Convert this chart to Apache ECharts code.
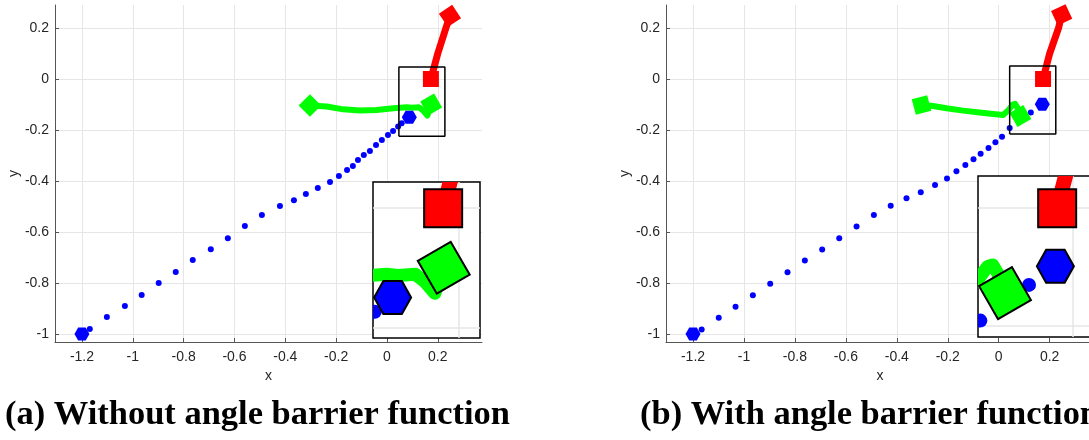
<!DOCTYPE html>
<html>
<head>
<meta charset="utf-8">
<title>Angle barrier function comparison</title>
<script src="https://cdn.jsdelivr.net/npm/echarts@6.0.0/dist/echarts.min.js"></script>
<style>
  html, body { margin: 0; padding: 0; background: #fff; }
  #chart { width: 1089px; height: 440px; }
</style>
</head>
<body>
<div id="chart"></div>
<script>
// axes (same for both panels)
const xRange = [-1.306, 0.374];
const yRange = [-1.031, 0.29];
const xTicks = [-1.2, -1, -0.8, -0.6, -0.4, -0.2, 0, 0.2];
const yTicks = [-1, -0.8, -0.6, -0.4, -0.2, 0, 0.2];

// (a) without angle barrier function
const blueA = [[-1.169,-0.980],[-1.102,-0.933],[-1.031,-0.890],[-0.965,-0.847],[-0.898,-0.800],
  [-0.831,-0.757],[-0.764,-0.710],[-0.693,-0.667],[-0.626,-0.624],[-0.559,-0.576],[-0.492,-0.533],
  [-0.421,-0.498],[-0.366,-0.475],[-0.319,-0.451],[-0.272,-0.427],[-0.224,-0.404],[-0.189,-0.380],
  [-0.157,-0.357],[-0.134,-0.341],[-0.114,-0.318],[-0.091,-0.298],[-0.067,-0.282],[-0.043,-0.259],
  [-0.020,-0.239],[0.004,-0.220],[0.024,-0.204],[0.044,-0.186],[0.058,-0.174]];
const greenA = [[-0.303,-0.104],[-0.237,-0.108],[-0.172,-0.119],[-0.106,-0.124],[-0.041,-0.122],
  [0.025,-0.115],[0.078,-0.111],[0.097,-0.113],[0.126,-0.111],[0.142,-0.123],[0.159,-0.143],[0.174,-0.100]];
const redA = [[0.173,0],[0.200,0.100],[0.232,0.200],[0.248,0.247]];
// poses: [x, y, heading deg] for start and end
const redPoseA = [[0.173,0,0],[0.248,0.247,34]];
const greenPoseA = [[-0.303,-0.104,45],[0.174,-0.100,30]];
const bluePoseA = [[-1.2,-1.0,0],[0.088,-0.150,0]];
const boxA = [0.047, 0.228, -0.224, 0.047];      // x0, x1, y0, y1
const insetXA = [0.055, 0.235];
const insetYA = [-0.218, 0.044];

// (b) with angle barrier function
const blueB = [[-1.166,-0.982],[-1.099,-0.936],[-1.033,-0.893],[-0.965,-0.848],[-0.897,-0.803],
  [-0.829,-0.758],[-0.761,-0.712],[-0.693,-0.668],[-0.626,-0.624],[-0.558,-0.578],[-0.490,-0.533],
  [-0.424,-0.497],[-0.362,-0.468],[-0.306,-0.444],[-0.250,-0.416],[-0.203,-0.390],[-0.166,-0.362],
  [-0.131,-0.337],[-0.099,-0.315],[-0.071,-0.293],[-0.040,-0.271],[-0.013,-0.248],[0.013,-0.226],
  [0.043,-0.192],[0.126,-0.131]];
const greenB = [[-0.303,-0.102],[-0.258,-0.106],[-0.205,-0.115],[-0.140,-0.124],[-0.075,-0.131],
  [-0.022,-0.137],[0.017,-0.141],[0.039,-0.122],[0.055,-0.100],[0.064,-0.097],[0.072,-0.110],[0.085,-0.145]];
const redB = [[0.174,0],[0.200,0.100],[0.235,0.200],[0.247,0.251]];
const redPoseB = [[0.174,0,0],[0.247,0.251,25]];
const greenPoseB = [[-0.303,-0.102,15],[0.085,-0.145,30]];
const bluePoseB = [[-1.2,-1.0,0],[0.171,-0.099,0]];
const boxB = [0.043, 0.224, -0.216, 0.051];
const insetXB = [0.039, 0.230];
const insetYB = [-0.220, 0.055];

const captionA = '(a) Without angle barrier function';
const captionB = '(b) With angle barrier function';

const FONT = '"Liberation Sans", Arial, sans-serif';
const TXT = '#262626';
const HEX = 'path://M0,50L25,7L75,7L100,50L75,93L25,93Z';
const BLUE = '#0000ff', GREEN = '#00ff00', RED = '#ff0000';

const mainStyle = { dot: 6, green: 6, red: 7, square: 16, hex: [15, 13] };
const insetStyle = { dot: 14, green: 13, red: 15, square: 38, hex: [37, 33], border: 2 };

function mainX(gi) {
  return {
    gridIndex: gi, type: 'value', min: xRange[0], max: xRange[1],
    name: 'x', nameLocation: 'middle', nameGap: 27,
    nameTextStyle: { color: TXT, fontSize: 14, fontFamily: FONT },
    axisLine: { show: true, onZero: false, lineStyle: { color: '#555', width: 1 } },
    axisTick: { show: true, inside: true, length: 4, customValues: xTicks, lineStyle: { color: '#555' } },
    axisLabel: { customValues: xTicks, color: TXT, fontSize: 14, fontFamily: FONT, margin: 8,
      formatter: v => String(+v.toFixed(2)) },
    splitLine: { show: true, lineStyle: { color: '#e6e6e6', width: 1 } }
  };
}
function mainY(gi) {
  return {
    gridIndex: gi, type: 'value', min: yRange[0], max: yRange[1],
    name: 'y', nameLocation: 'middle', nameGap: 34,
    nameTextStyle: { color: TXT, fontSize: 14, fontFamily: FONT },
    axisLine: { show: true, onZero: false, lineStyle: { color: '#555', width: 1 } },
    axisTick: { show: true, inside: true, length: 4, customValues: yTicks, lineStyle: { color: '#555' } },
    axisLabel: { customValues: yTicks, color: TXT, fontSize: 14, fontFamily: FONT, margin: 6,
      formatter: v => String(+v.toFixed(2)) },
    splitLine: { show: true, lineStyle: { color: '#e6e6e6', width: 1 } }
  };
}
function insetAxis(gi, range, ticks) {
  return {
    gridIndex: gi, type: 'value', min: range[0], max: range[1], z: 4,
    axisLine: { show: false }, axisLabel: { show: false },
    axisTick: { show: false, customValues: ticks },
    splitLine: { show: true, lineStyle: { color: '#e6e6e6', width: 1.5 } }
  };
}

// main panels: ordinary series
function mainSeries(ai, blue, green, red, redPose, greenPose, bluePose, st) {
  const base = { xAxisIndex: ai, yAxisIndex: ai, z: 2, silent: true };
  const poses = [];
  bluePose.forEach(p => poses.push({ value: [p[0], p[1]], symbol: HEX, symbolSize: st.hex,
    itemStyle: { color: BLUE, opacity: 1 } }));
  redPose.forEach(p => poses.push({ value: [p[0], p[1]], symbol: 'rect', symbolSize: st.square,
    symbolRotate: p[2], itemStyle: { color: RED, opacity: 1 } }));
  greenPose.forEach(p => poses.push({ value: [p[0], p[1]], symbol: 'rect', symbolSize: st.square,
    symbolRotate: p[2], itemStyle: { color: GREEN, opacity: 1 } }));
  return [
    Object.assign({ type: 'scatter', data: blue, symbol: 'circle', symbolSize: st.dot,
      itemStyle: { color: BLUE, opacity: 1 } }, base),
    Object.assign({ type: 'line', data: green, symbol: 'none',
      lineStyle: { color: GREEN, width: st.green, cap: 'round', join: 'round' } }, base),
    Object.assign({ type: 'line', data: red, symbol: 'none',
      lineStyle: { color: RED, width: st.red, cap: 'round', join: 'round' } }, base),
    Object.assign({ type: 'scatter', data: poses }, base)
  ];
}

// insets: custom series so the clip is exactly the inset box
function insetSeries(ai, blue, green, red, redPose, greenPose, bluePose, st) {
  const base = { type: 'custom', xAxisIndex: ai, yAxisIndex: ai, z: 5, silent: true, clip: true };
  const pathItem = (pts, color, w) => (params, api) => {
    if (params.dataIndex !== 0) return null;
    return { type: 'polyline', shape: { points: pts.map(p => api.coord(p)) },
      style: { stroke: color, lineWidth: w, lineCap: 'round', lineJoin: 'round', fill: null } };
  };
  const squareItem = color => (params, api) => {
    const c = api.coord([api.value(0), api.value(1)]);
    const s = st.square;
    return { type: 'rect', x: c[0], y: c[1], rotation: api.value(2) * Math.PI / 180,
      shape: { x: -s / 2, y: -s / 2, width: s, height: s },
      style: { fill: color, stroke: '#000', lineWidth: st.border } };
  };
  return [
    Object.assign({ data: blue, renderItem: (params, api) => {
      const c = api.coord([api.value(0), api.value(1)]);
      return { type: 'circle', shape: { cx: c[0], cy: c[1], r: st.dot / 2 }, style: { fill: BLUE } };
    } }, base),
    Object.assign({ data: green, renderItem: pathItem(green, GREEN, st.green) }, base),
    Object.assign({ data: red, renderItem: pathItem(red, RED, st.red) }, base),
    Object.assign({ data: bluePose, renderItem: (params, api) => {
      const c = api.coord([api.value(0), api.value(1)]);
      const hw = st.hex[0] / 2, hh = st.hex[1] / 2;
      const pts = [[-hw, 0], [-hw / 2, -hh], [hw / 2, -hh], [hw, 0], [hw / 2, hh], [-hw / 2, hh]]
        .map(o => [c[0] + o[0], c[1] + o[1]]);
      return { type: 'polygon', shape: { points: pts },
        style: { fill: BLUE, stroke: '#000', lineWidth: st.border } };
    } }, base),
    Object.assign({ data: redPose, renderItem: squareItem(RED) }, base),
    Object.assign({ data: greenPose, renderItem: squareItem(GREEN) }, base)
  ];
}

function boxSeries(ai, b) {
  return {
    type: 'line', xAxisIndex: ai, yAxisIndex: ai, symbol: 'none', silent: true, z: 3,
    data: [[b[0], b[2]], [b[1], b[2]], [b[1], b[3]], [b[0], b[3]], [b[0], b[2]]],
    lineStyle: { color: '#000', width: 1.5 }
  };
}

// caption width in the picture is fixed, so squeeze text to fit
function captionScale(text, font, target) {
  const ctx = document.createElement('canvas').getContext('2d');
  ctx.font = font;
  return target / ctx.measureText(text).width;
}
const capFont = 'bold 34px "Liberation Serif", "Times New Roman", serif';
const capScale = captionScale(captionA, capFont, 505);

let chart = echarts.init(document.getElementById('chart'), null, { renderer: 'canvas' });

let option = {
  animation: false,
  backgroundColor: '#fff',
  grid: [
    { left: 55, top: 5, width: 427, height: 337, outerBoundsMode: 'none' },
    { left: 666, top: 5, width: 428, height: 337, outerBoundsMode: 'none' },
    { left: 373, top: 182, width: 107, height: 156, show: true, z: 3, backgroundColor: '#fff',
      borderColor: '#000', borderWidth: 1.5, outerBoundsMode: 'none' },
    { left: 978, top: 176, width: 112, height: 161, show: true, z: 3, backgroundColor: '#fff',
      borderColor: '#000', borderWidth: 1.5, outerBoundsMode: 'none' }
  ],
  xAxis: [mainX(0), mainX(1), insetAxis(2, insetXA, [0, 0.2]), insetAxis(3, insetXB, [0, 0.2])],
  yAxis: [mainY(0), mainY(1), insetAxis(2, insetYA, [-0.2, 0]), insetAxis(3, insetYB, [-0.2, 0])],
  series: [].concat(
    mainSeries(0, blueA, greenA, redA, redPoseA, greenPoseA, bluePoseA, mainStyle),
    mainSeries(1, blueB, greenB, redB, redPoseB, greenPoseB, bluePoseB, mainStyle),
    [boxSeries(0, boxA), boxSeries(1, boxB)],
    insetSeries(2, blueA, greenA, redA, redPoseA, greenPoseA, bluePoseA, insetStyle),
    insetSeries(3, blueB, greenB, redB, redPoseB, greenPoseB, bluePoseB, insetStyle)
  ),
  graphic: [
    { type: 'text', x: 5, y: 415, scaleX: capScale, silent: true,
      style: { text: captionA, font: capFont, fill: '#000', verticalAlign: 'middle' } },
    { type: 'text', x: 640, y: 415, scaleX: capScale, silent: true,
      style: { text: captionB, font: capFont, fill: '#000', verticalAlign: 'middle' } }
  ]
};

chart.setOption(option);
</script>
</body>
</html>
